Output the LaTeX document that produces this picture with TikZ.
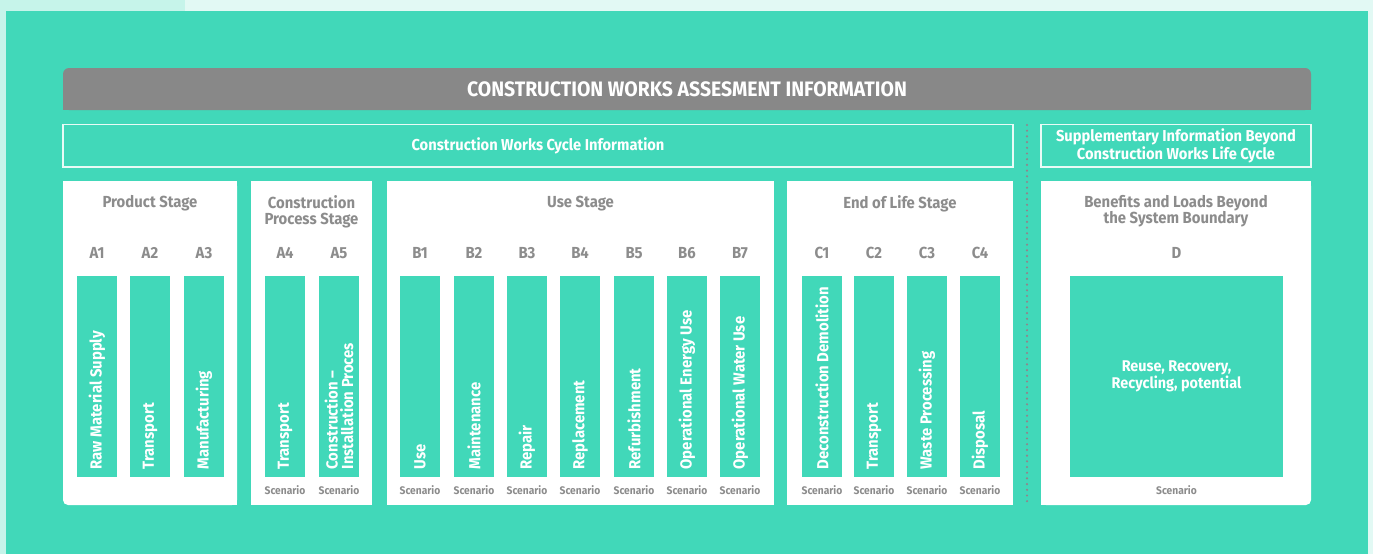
\documentclass[tikz,border=0pt]{standalone}
\usepackage{fontspec}
\setmainfont{Fira Sans}[FakeStretch=0.93]
\definecolor{tealA}{HTML}{41D8B9}
\definecolor{mintA}{HTML}{C6F4EA}
\definecolor{mintB}{HTML}{E2F9F4}
\definecolor{hdrgray}{HTML}{888888}
\definecolor{txtgray}{HTML}{8C8C8C}
\definecolor{boxline}{HTML}{E8FBF6}
\definecolor{dotgray}{HTML}{8F868C}
\begin{document}
\begin{tikzpicture}[x=1pt,y=-1pt,
  titletext/.style={text=white,font=\fontsize{20.9}{22}\selectfont\bfseries,inner sep=0pt},
  infobox/.style={draw=boxline,line width=1.5pt,text=white,align=center,
    font=\fontsize{15.8}{16}\selectfont\bfseries,inner sep=0pt},
  stagetitle/.style={text=txtgray,align=center,font=\fontsize{16}{16}\selectfont\bfseries,inner sep=0pt},
  code/.style={text=txtgray,font=\fontsize{16}{16}\selectfont\bfseries,inner sep=0pt},
  bar/.style={fill=tealA,minimum width=40pt,minimum height=200.5pt,inner sep=0pt},
  bartext/.style={text=white,rotate=90,anchor=west,align=left,
    font=\fontsize{16}{15.5}\selectfont\bfseries,inner sep=0pt},
  scen/.style={text=txtgray,font=\fontsize{11}{12}\selectfont\bfseries,inner sep=0pt},
  sep/.style={dotgray,line width=2.4pt,dash pattern=on 0pt off 5.7pt,line cap=round}]
\useasboundingbox (0,0) rectangle (1373,554);
% background
\fill[mintA] (0,0) rectangle (1373,554);
\fill[mintB] (185,0) rectangle (1373,11);
\fill[mintB] (1368,11) rectangle (1373,554);
\fill[tealA] (6,11) rectangle (1368,554);
% header
\fill[hdrgray,rounded corners=6pt] (63,68) rectangle (1311,110);
\fill[hdrgray] (63,80) rectangle (1311,110);
\node[titletext] (title) at (687,89) {CONSTRUCTION WORKS ASSESMENT INFORMATION};
% info boxes
\node[infobox,minimum width=950pt,minimum height=42.5pt] (cycle) at (538,145.75) {Construction Works Cycle Information};
\node[infobox,minimum width=270pt,minimum height=42.5pt] (supp) at (1176,145.75) {Supplementary Information Beyond\\Construction Works Life Cycle};
% separator
\coordinate (septop) at (1027,125);
\coordinate (sepbot) at (1027,505);
\draw[sep] (septop) -- (sepbot);
% panels
\fill[white,rounded corners=5pt] (63,181) rectangle (237,505);
\fill[white] (63,181) rectangle (237,495);
\fill[white] (73,181) rectangle (237,505);
\fill[white] (251,181) rectangle (372,505);
\fill[white] (387,181) rectangle (774,505);
\fill[white] (787,181) rectangle (1013,505);
\fill[white,rounded corners=5pt] (1041,181) rectangle (1311,505);
\fill[white] (1041,181) rectangle (1311,495);
\fill[white] (1041,181) rectangle (1301,505);
% stage titles
\node[stagetitle] (tprod) at (150,203.5) {Product Stage};
\node[stagetitle] (tcons) at (311.5,211.5) {Construction\\Process Stage};
\node[stagetitle] (tuse) at (580.5,203.5) {Use Stage};
\node[stagetitle] (teol) at (900,203.5) {End of Life Stage};
\node[stagetitle] (tben) at (1176,211.5) {Benefits and Loads Beyond\\the System Boundary};
% bars
\foreach \n/\x/\t in {A1/97/{Raw Material Supply},A2/150/{Transport},A3/204/{Manufacturing},
  A4/285/{Transport},A5/339/{Construction –\\Installation Proces},
  B1/420/{Use},B2/474/{Maintenance},B3/527/{Repair},B4/580/{Replacement},
  B5/634/{Refurbishment},B6/687/{Operational Energy Use},B7/740/{Operational Water Use},
  C1/822/{Deconstruction Demolition},C2/874/{Transport},C3/927/{Waste Processing},C4/980/{Disposal}}{
  \node[code] (code\n) at (\x,253) {\n};
  \node[bar] (bar\n) at (\x,376.25) {};
  \node[bartext] (text\n) at (\x,469.5) {\t};
}
\foreach \n/\x in {A4/285,A5/339,B1/420,B2/474,B3/527,B4/580,B5/634,B6/687,B7/740,C1/822,C2/874,C3/927,C4/980}{
  \node[scen] (scen\n) at (\x,490.5) {Scenario};
}
% D
\node[code] (codeD) at (1176.5,253) {D};
\node[fill=tealA,minimum width=213pt,minimum height=200.5pt,inner sep=0pt] (barD) at (1176.5,376.25) {};
\node[text=white,align=center,font=\fontsize{15.5}{16}\selectfont\bfseries,inner sep=0pt] (textD) at (1176.5,376) {Reuse, Recovery,\\Recycling, potential};
\node[scen] (scenD) at (1176.5,490.5) {Scenario};
\end{tikzpicture}
\end{document}
